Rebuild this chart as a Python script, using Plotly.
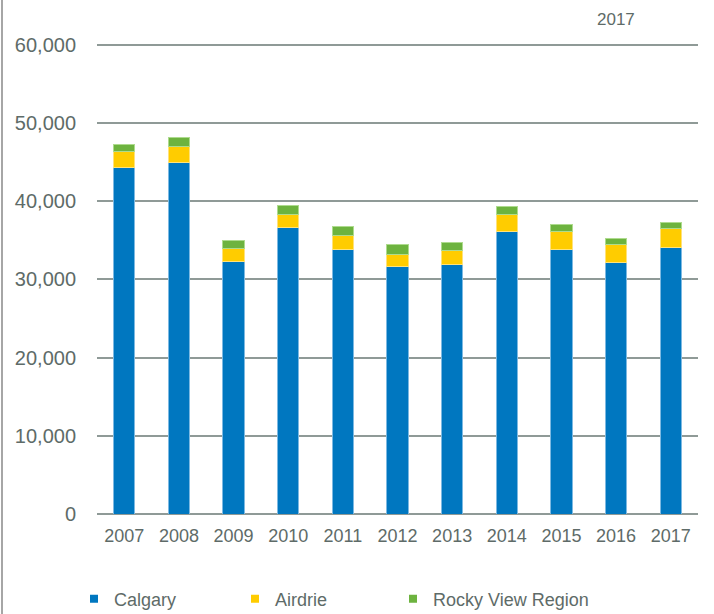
import plotly.graph_objects as go

# Annual totals by area, 2007-2017
years = ["2007", "2008", "2009", "2010", "2011", "2012",
         "2013", "2014", "2015", "2016", "2017"]
calgary = [44300, 44940, 32330, 36680, 33810, 31640,
           31940, 36110, 33810, 32200, 34070]
airdrie = [1970, 2050, 1660, 1660, 1840, 1580,
           1700, 2180, 2300, 2300, 2430]
rocky_view = [1020, 1070, 1020, 1100, 1100, 1190,
              1120, 1070, 860, 770, 810]

series_names = ["Calgary", "Airdrie", "Rocky View Region"]
series_values = [calgary, airdrie, rocky_view]
series_colors = ["#0077C0", "#FFCC00", "#6DB33F"]
edge_colors = ["#7DB9E2", "#FFE27A", "#AEDB8E"]

y_ticks = [0, 10000, 20000, 30000, 40000, 50000, 60000]
y_tick_text = ["0", "10,000", "20,000", "30,000", "40,000", "50,000", "60,000"]
y_top = 60200

TEXT = "#5E6B68"
GRID = "#8F9A97"
FONT = "Liberation Sans, Arial, sans-serif"

# plot area in pixels
L, R, T, B = 97, 16, 43, 100
PW, PH = 714 - L - R, 614 - T - B

fig = go.Figure()

for name, vals, col, edge in zip(series_names, series_values, series_colors, edge_colors):
    fig.add_trace(go.Bar(
        x=years, y=vals, name=name,
        marker=dict(color=col, line=dict(color=edge, width=1)),
        width=0.39, showlegend=False,
    ))

# small square legend keys, one legend box per entry
legend_ids = ["legend", "legend2", "legend3"]
legend_left_px = [74, 235, 393]
for name, col, lid in zip(series_names, series_colors, legend_ids):
    fig.add_trace(go.Scatter(
        x=[None], y=[None], mode="markers", name=name, legend=lid,
        marker=dict(symbol="square", size=8, color=col),
    ))

def legend_box(px):
    return dict(
        orientation="h", x=(px - L) / PW, xanchor="left",
        y=(614 - B - 599) / PH, yanchor="middle",
        font=dict(family=FONT, size=18, color=TEXT),
        itemwidth=30, bgcolor="rgba(0,0,0,0)",
    )

fig.update_layout(
    width=714, height=614,
    margin=dict(l=L, r=R, t=T, b=B, autoexpand=False),
    paper_bgcolor="white", plot_bgcolor="white",
    barmode="stack",
    font=dict(family=FONT, color=TEXT, size=18),
    xaxis=dict(
        type="category", range=[-0.5, 10.5],
        showgrid=False, showline=False, zeroline=False,
        ticks="", tickfont=dict(size=18, color=TEXT),
        ticklabelstandoff=9,
    ),
    yaxis=dict(
        range=[0, y_top], tickvals=y_ticks, ticktext=y_tick_text,
        showgrid=True, gridcolor=GRID, gridwidth=1.5,
        zeroline=True, zerolinecolor=GRID, zerolinewidth=1.5,
        showline=False, ticks="", tickfont=dict(size=20, color=TEXT),
        ticklabelstandoff=20,
    ),
    legend=legend_box(legend_left_px[0]),
    legend2=legend_box(legend_left_px[1]),
    legend3=legend_box(legend_left_px[2]),
    annotations=[dict(
        text="2017", xref="paper", yref="paper",
        x=(616 - L) / PW, y=(614 - B - 19) / PH,
        xanchor="center", yanchor="middle", showarrow=False,
        font=dict(family=FONT, size=17, color=TEXT),
    )],
    shapes=[dict(
        type="line", xref="paper", yref="paper",
        x0=(2 - L) / PW, x1=(2 - L) / PW, y0=-B / PH, y1=(614 - B) / PH,
        line=dict(color="#A6A6A6", width=2),
    )],
)

fig.write_html("out.html")
